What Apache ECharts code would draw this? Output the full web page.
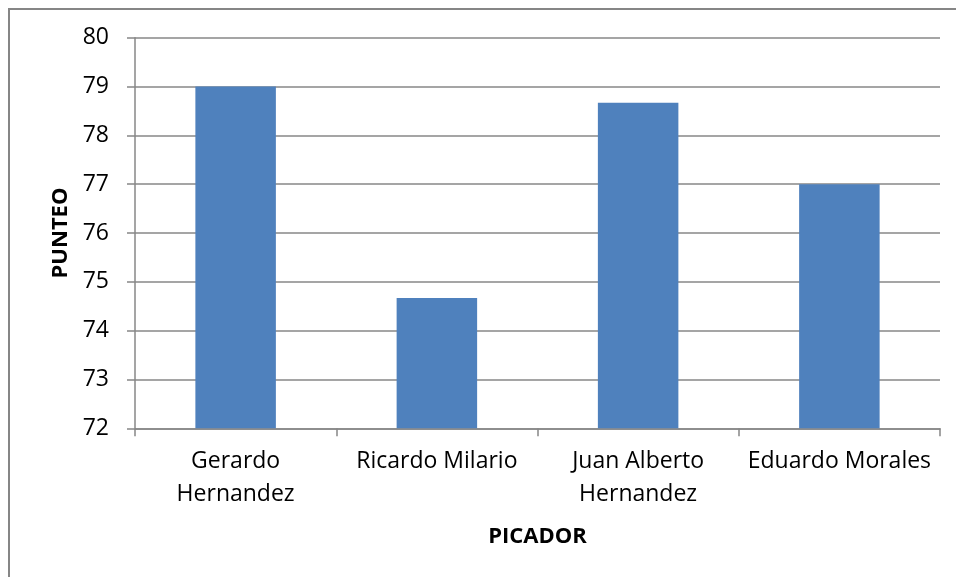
<!DOCTYPE html>
<html>
<head>
<meta charset="utf-8">
<script src="https://cdn.jsdelivr.net/npm/echarts@6/dist/echarts.min.js"></script>
<style>
  html, body { margin: 0; padding: 0; background: #fff; }
  #chart { width: 956px; height: 577px; }
</style>
</head>
<body>
<div id="chart"></div>
<script>
// Competitors (picadores) and their scores
var categories = ['Gerardo\nHernandez', 'Ricardo Milario', 'Juan Alberto\nHernandez', 'Eduardo Morales'];
var punteo = [79, 74.67, 78.67, 77];
var yMin = 72;
var yMax = 80;
var yStep = 1;

var FONT = '"Open Sans", sans-serif';
var GRID_COLOR = '#878787';

var chart = echarts.init(document.getElementById('chart'), null, { renderer: 'canvas' });

chart.setOption({
  animation: false,
  backgroundColor: '#ffffff',
  graphic: [{
    type: 'rect',
    shape: { x: 9, y: 9, width: 1000, height: 1000 },
    style: { fill: 'none', stroke: '#868686', lineWidth: 2 },
    silent: true
  }],
  grid: { left: 135, right: 16, top: 37.7, bottom: 148.7, containLabel: false },
  xAxis: {
    type: 'category',
    data: categories,
    boundaryGap: true,
    name: 'PICADOR',
    nameLocation: 'middle',
    nameGap: 97,
    nameTextStyle: { fontFamily: FONT, fontSize: 22, fontWeight: 'bold', color: '#000' },
    axisLine: { show: true, lineStyle: { color: GRID_COLOR, width: 1.5 } },
    axisTick: { show: true, length: 8, alignWithLabel: false, lineStyle: { color: GRID_COLOR, width: 1.5 } },
    axisLabel: {
      interval: 0,
      margin: 17,
      fontFamily: FONT,
      fontSize: 23,
      lineHeight: 33,
      color: '#000'
    },
    splitLine: { show: false }
  },
  yAxis: {
    type: 'value',
    min: yMin,
    max: yMax,
    interval: yStep,
    name: 'PUNTEO',
    nameLocation: 'middle',
    nameGap: 63,
    nameRotate: 90,
    nameTextStyle: { fontFamily: FONT, fontSize: 22, fontWeight: 'bold', color: '#000' },
    axisLine: { show: true, lineStyle: { color: GRID_COLOR, width: 1.5 } },
    axisTick: { show: true, length: 8, lineStyle: { color: GRID_COLOR, width: 1.5 } },
    axisLabel: { margin: 26, fontFamily: FONT, fontSize: 23, color: '#000' },
    splitLine: { show: true, lineStyle: { color: GRID_COLOR, width: 1.5 } }
  },
  series: [{
    type: 'bar',
    data: punteo,
    barCategoryGap: '60%',
    itemStyle: { color: '#4F81BD' }
  }]
});
</script>
</body>
</html>
